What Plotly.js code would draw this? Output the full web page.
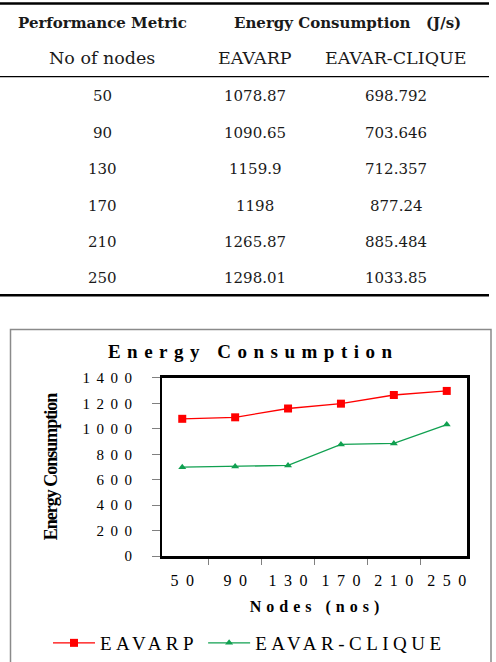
<!DOCTYPE html>
<html>
<head>
<meta charset="utf-8">
<script src="https://cdn.plot.ly/plotly-3.0.1.min.js"></script>
<style>
  html, body { margin: 0; padding: 0; background: #fff; }
  #chart { width: 496px; height: 662px; }
  .ytick text { letter-spacing: 6.5px; }
  .xtick text { letter-spacing: 7.5px; }
  .gtitle { letter-spacing: 6.5px; }
  text.xtitle { letter-spacing: 5px; }
  text.ytitle { letter-spacing: -1px; }
  .legendtext { letter-spacing: 4.5px; }
</style>
</head>
<body>
<div id="chart"></div>
<script>
// ---- data ----
var nodes = ["50", "90", "130", "170", "210", "250"];
var eavarp = [1078.87, 1090.65, 1159.9, 1198, 1265.87, 1298.01];
var eavarClique = [698.792, 703.646, 712.357, 877.24, 885.484, 1033.85];
var seriesNames = ["EAVARP", "EAVAR-CLIQUE"];
var yTicks = [0, 200, 400, 600, 800, 1000, 1200, 1400];
var tableHead1 = ["Performance Metric", "Energy Consumption\u00a0\u00a0 (J/s)"];
var tableHead2 = ["No of nodes", "EAVARP", "EAVAR-CLIQUE"];
var chartTitle = "Energy Consumption";
var xTitle = "Nodes (nos)";
var yTitle = "Energy Consumption";

// ---- geometry helpers (page pixels -> paper) ----
var W = 496, H = 662;
function px(x) { return x / W; }
function py(y) { return 1 - y / H; }

var colX = [102, 255, 396];
var rowY = [97, 134, 171, 208, 245, 281];
var tableFont = "DejaVu Serif";

var annotations = [];
function addText(t, x, y, size, bold) {
  annotations.push({
    text: bold ? "<b>" + t + "</b>" : t,
    xref: "paper", yref: "paper", x: px(x), y: py(y),
    xanchor: "center", yanchor: "middle", showarrow: false,
    font: { family: tableFont, size: size, color: "#1a1a1a" }
  });
}
addText(tableHead1[0], colX[0], 23.5, 15, true);
addText(tableHead1[1], 347, 23.5, 15, true);
for (var i = 0; i < tableHead2.length; i++) addText(tableHead2[i], colX[i], 59, 17.5, false);
for (var r = 0; r < nodes.length; r++) {
  addText(nodes[r], colX[0], rowY[r], 15, false);
  addText(String(eavarp[r]), colX[1], rowY[r], 15, false);
  addText(String(eavarClique[r]), colX[2], rowY[r], 15, false);
}

var shapes = [
  { type: "line", xref: "paper", yref: "paper", x0: 0, x1: px(489), y0: py(3.5), y1: py(3.5), line: { color: "#000", width: 2.5 } },
  { type: "line", xref: "paper", yref: "paper", x0: 0, x1: px(489), y0: py(77.5), y1: py(77.5), line: { color: "#000", width: 1.2 } },
  { type: "line", xref: "paper", yref: "paper", x0: 0, x1: px(489), y0: py(298.5), y1: py(298.5), line: { color: "#000", width: 2.5 } },
  { type: "rect", xref: "paper", yref: "paper", x0: px(10.5), x1: px(491), y0: py(670), y1: py(333), line: { color: "#8a8a8a", width: 1.5 } }
];

var serif = "Liberation Serif, Times New Roman, serif";

var traces = [
  {
    x: nodes, y: eavarp, name: seriesNames[0], type: "scatter", mode: "lines+markers",
    line: { color: "#ff0000", width: 1.3 },
    marker: { symbol: "square", size: 8, color: "#ff0000" }
  },
  {
    x: nodes, y: eavarClique, name: seriesNames[1], type: "scatter", mode: "lines+markers",
    line: { color: "#10a050", width: 1.3 },
    marker: { symbol: "triangle-up", size: 7, color: "#10a050" }
  }
];

var layout = {
  width: W, height: H,
  margin: { l: 0, r: 0, t: 0, b: 0 },
  paper_bgcolor: "#fff", plot_bgcolor: "#fff",
  title: {
    text: "<b>" + chartTitle + "</b>",
    x: px(250), xanchor: "center", xref: "paper",
    y: py(355), yanchor: "middle", yref: "paper",
    font: { family: serif, size: 19, color: "#000" }
  },
  xaxis: {
    domain: [px(162), px(467)],
    type: "category",
    showgrid: false, zeroline: false,
    showline: true, linecolor: "#000", linewidth: 2.5, mirror: true,
    ticks: "outside", tickson: "boundaries", ticklen: 6, tickcolor: "#808080", tickwidth: 1,
    ticklabelstandoff: 8,
    tickfont: { family: serif, size: 16, color: "#000" },
    title: { text: "<b>" + xTitle + "</b>", standoff: 13, font: { family: serif, size: 16, color: "#000" } }
  },
  yaxis: {
    domain: [py(562), py(382)],
    range: [0, 1400],
    tickvals: yTicks,
    ticktext: yTicks.map(String),
    showgrid: false, zeroline: false,
    showline: true, linecolor: "#000", linewidth: 2.5, mirror: true,
    ticks: "outside", ticklen: 8, tickcolor: "#808080", tickwidth: 1,
    ticklabelstandoff: 10,
    tickfont: { family: serif, size: 15, color: "#000" },
    title: { text: "<b>" + yTitle + "</b>", standoff: 20, font: { family: serif, size: 18, color: "#000" } }
  },
  showlegend: true,
  legend: {
    orientation: "h",
    x: px(48), xanchor: "left", xref: "paper",
    y: py(650), yanchor: "middle", yref: "paper",
    itemwidth: 42,
    font: { family: serif, size: 19, color: "#000" },
    bgcolor: "rgba(0,0,0,0)"
  },
  annotations: annotations,
  shapes: shapes
};

Plotly.newPlot("chart", traces, layout, { displayModeBar: false, staticPlot: true }).then(function (gd) {
  // compensate the trailing letter-spacing on centred texts
  gd.querySelectorAll(".xtick text").forEach(function (t) { t.setAttribute("dx", "3.75"); });
  gd.querySelectorAll(".gtitle").forEach(function (t) { t.setAttribute("dx", "3.25"); });
  gd.querySelectorAll("text.xtitle").forEach(function (t) { t.setAttribute("dx", "2.5"); });
});
</script>
</body>
</html>
